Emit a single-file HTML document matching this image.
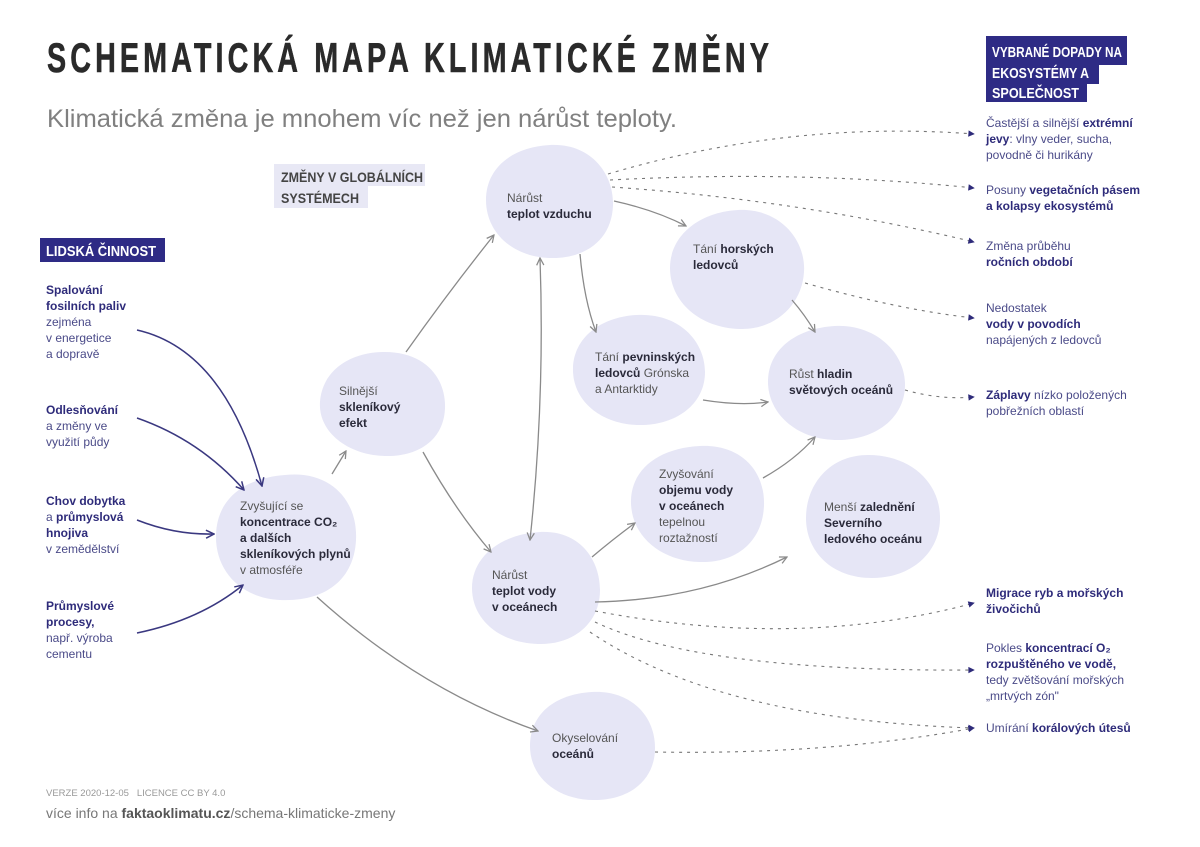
<!DOCTYPE html>
<html><head><meta charset="utf-8"><style>
html,body{margin:0;padding:0;background:#fff;}
svg{display:block;font-family:"Liberation Sans",sans-serif;}
.t{font-size:12px;fill:#555;}
.b{font-weight:bold;fill:#2a2a3a;}
.n{font-size:12px;fill:#4a4a88;}
.nb{font-weight:bold;fill:#2e2b7a;}
.blob{fill:#e6e6f6;}
.g{stroke:#8a8a8a;stroke-width:1.3;fill:none;}
.nv{stroke:#3a3880;stroke-width:1.5;fill:none;}
.d{stroke:#777;stroke-width:1.1;fill:none;stroke-dasharray:3 5;}
</style></head><body>
<svg width="1200" height="847" viewBox="0 0 1200 847">
<defs>
<marker id="ag" viewBox="0 0 10 10" refX="9" refY="5" markerWidth="9" markerHeight="9" orient="auto" markerUnits="userSpaceOnUse"><path d="M1,1 L9,5 L1,9" fill="none" stroke="#8a8a8a" stroke-width="1.4"/></marker>
<marker id="agr" viewBox="0 0 10 10" refX="1" refY="5" markerWidth="9" markerHeight="9" orient="auto" markerUnits="userSpaceOnUse"><path d="M9,1 L1,5 L9,9" fill="none" stroke="#8a8a8a" stroke-width="1.4"/></marker>
<marker id="an" viewBox="0 0 10 10" refX="9" refY="5" markerWidth="10" markerHeight="10" orient="auto" markerUnits="userSpaceOnUse"><path d="M1,1 L9,5 L1,9" fill="none" stroke="#3a3880" stroke-width="1.5"/></marker>
<marker id="at" viewBox="0 0 10 10" refX="8" refY="5" markerWidth="8" markerHeight="8" orient="auto" markerUnits="userSpaceOnUse"><path d="M1,1 L9,5 L1,9 Z" fill="#2e2b7a"/></marker>
</defs>

<!-- Title -->
<text x="47" y="72" font-weight="bold" font-size="42" letter-spacing="6" fill="#2a2a2a" stroke="#2a2a2a" stroke-width="0.6" textLength="726" lengthAdjust="spacingAndGlyphs">SCHEMATICKÁ MAPA KLIMATICKÉ ZMĚNY</text>
<text x="47" y="127" font-size="25" fill="#808080" textLength="630" lengthAdjust="spacingAndGlyphs">Klimatická změna je mnohem víc než jen nárůst teploty.</text>

<!-- section labels -->
<rect x="986" y="36" width="141" height="29" fill="#2e2b85"/>
<rect x="986" y="64" width="113" height="20" fill="#2e2b85"/>
<rect x="986" y="83" width="101" height="19" fill="#2e2b85"/>
<g font-weight="bold" font-size="15" fill="#fff">
<text x="992" y="57" textLength="130" lengthAdjust="spacingAndGlyphs">VYBRANÉ DOPADY NA</text>
<text x="992" y="78" textLength="97" lengthAdjust="spacingAndGlyphs">EKOSYSTÉMY A</text>
<text x="992" y="98" textLength="87" lengthAdjust="spacingAndGlyphs">SPOLEČNOST</text>
</g>
<rect x="40" y="238" width="125" height="24" fill="#2e2b85"/>
<text x="46" y="256" font-weight="bold" font-size="14.5" fill="#fff" textLength="110" lengthAdjust="spacingAndGlyphs">LIDSKÁ ČINNOST</text>
<rect x="274" y="164" width="151" height="22" fill="#e8e8f5"/>
<rect x="274" y="186" width="94" height="22" fill="#e8e8f5"/>
<g font-weight="bold" font-size="14" fill="#444">
<text x="281" y="182" textLength="142" lengthAdjust="spacingAndGlyphs">ZMĚNY V GLOBÁLNÍCH</text>
<text x="281" y="203" textLength="78" lengthAdjust="spacingAndGlyphs">SYSTÉMECH</text>
</g>

<!-- blobs -->
<path class="blob" d="M285,475 C330,470 358,500 356,540 C354,580 325,602 280,600 C240,598 215,570 216,535 C217,498 245,478 285,475Z"/>
<path class="blob" d="M385,352 C425,352 446,378 445,408 C444,440 418,457 385,456 C348,455 318,432 320,402 C322,372 348,352 385,352Z"/>
<path class="blob" d="M550,145 C592,143 614,175 613,205 C612,240 585,259 550,258 C512,257 486,232 486,200 C486,168 512,147 550,145Z"/>
<path class="blob" d="M738,210 C780,208 806,240 804,272 C802,305 775,330 740,329 C700,328 670,302 670,268 C670,235 700,212 738,210Z"/>
<path class="blob" d="M637,315 C680,313 705,342 705,372 C705,405 675,426 638,425 C600,424 572,400 573,368 C574,338 600,317 637,315Z"/>
<path class="blob" d="M835,326 C875,324 905,352 905,385 C905,418 875,441 835,440 C795,439 767,412 768,380 C769,348 798,328 835,326Z"/>
<path class="blob" d="M700,446 C740,444 765,470 764,505 C763,540 738,563 700,562 C660,561 630,535 631,500 C632,468 660,448 700,446Z"/>
<path class="blob" d="M868,455 C910,455 940,482 940,518 C940,552 912,578 872,578 C832,578 806,552 806,518 C806,484 830,455 868,455Z"/>
<path class="blob" d="M540,532 C580,530 600,560 600,590 C600,622 575,645 538,644 C500,643 472,620 472,588 C472,556 502,534 540,532Z"/>
<path class="blob" d="M592,692 C630,690 655,715 655,748 C655,780 630,800 594,800 C558,800 530,778 530,746 C530,714 555,694 592,692Z"/>

<!-- gray connectors -->
<path class="g" d="M332,474 L346,451" marker-end="url(#ag)"/>
<path class="g" d="M406,352 Q450,290 494,235" marker-end="url(#ag)"/>
<path class="g" d="M423,452 Q455,510 491,552" marker-end="url(#ag)"/>
<path class="g" d="M540,258 Q545,400 530,540" marker-start="url(#agr)" marker-end="url(#ag)"/>
<path class="g" d="M580,254 Q584,300 596,332" marker-end="url(#ag)"/>
<path class="g" d="M614,201 Q655,210 686,226" marker-end="url(#ag)"/>
<path class="g" d="M792,300 Q805,315 815,332" marker-end="url(#ag)"/>
<path class="g" d="M703,400 Q740,406 768,402" marker-end="url(#ag)"/>
<path class="g" d="M763,478 Q795,460 815,437" marker-end="url(#ag)"/>
<path class="g" d="M592,557 Q612,540 635,523" marker-end="url(#ag)"/>
<path class="g" d="M595,602 Q700,600 787,557" marker-end="url(#ag)"/>
<path class="g" d="M317,597 Q420,690 538,731" marker-end="url(#ag)"/>

<!-- navy connectors -->
<path class="nv" d="M137,330 Q225,350 262,486" marker-end="url(#an)"/>
<path class="nv" d="M137,418 Q200,440 244,490" marker-end="url(#an)"/>
<path class="nv" d="M137,520 Q175,535 214,534" marker-end="url(#an)"/>
<path class="nv" d="M137,633 Q200,620 243,585" marker-end="url(#an)"/>

<!-- dotted -->
<path class="d" d="M608,174 Q790,120 974,134" marker-end="url(#at)"/>
<path class="d" d="M610,180 Q800,170 974,188" marker-end="url(#at)"/>
<path class="d" d="M612,187 Q800,200 974,242" marker-end="url(#at)"/>
<path class="d" d="M805,283 Q900,310 974,318" marker-end="url(#at)"/>
<path class="d" d="M905,390 Q940,400 974,397" marker-end="url(#at)"/>
<path class="d" d="M595,611 Q800,650 974,603" marker-end="url(#at)"/>
<path class="d" d="M595,622 Q700,672 974,670" marker-end="url(#at)"/>
<path class="d" d="M590,632 Q720,720 974,728" marker-end="url(#at)"/>
<path class="d" d="M655,752 Q830,755 974,728" marker-end="url(#at)"/>

<!-- blob texts -->
<text class="t" x="240" y="510">Zvyšující se</text>
<text class="t b" x="240" y="526">koncentrace CO₂</text>
<text class="t b" x="240" y="542">a dalších</text>
<text class="t b" x="240" y="558">skleníkových plynů</text>
<text class="t" x="240" y="574">v atmosféře</text>

<text class="t" x="339" y="395">Silnější</text>
<text class="t b" x="339" y="411">skleníkový</text>
<text class="t b" x="339" y="427">efekt</text>

<text class="t" x="507" y="202">Nárůst</text>
<text class="t b" x="507" y="218">teplot vzduchu</text>

<text class="t" x="693" y="253">Tání <tspan class="b">horských</tspan></text>
<text class="t b" x="693" y="269">ledovců</text>

<text class="t" x="595" y="361">Tání <tspan class="b">pevninských</tspan></text>
<text class="t" x="595" y="377"><tspan class="b">ledovců</tspan> Grónska</text>
<text class="t" x="595" y="393">a Antarktidy</text>

<text class="t" x="789" y="378">Růst <tspan class="b">hladin</tspan></text>
<text class="t b" x="789" y="394">světových oceánů</text>

<text class="t" x="659" y="478">Zvyšování</text>
<text class="t b" x="659" y="494">objemu vody</text>
<text class="t b" x="659" y="510">v oceánech</text>
<text class="t" x="659" y="526">tepelnou</text>
<text class="t" x="659" y="542">roztažností</text>

<text class="t" x="824" y="511">Menší <tspan class="b">zalednění</tspan></text>
<text class="t b" x="824" y="527">Severního</text>
<text class="t b" x="824" y="543">ledového oceánu</text>

<text class="t" x="492" y="579">Nárůst</text>
<text class="t b" x="492" y="595">teplot vody</text>
<text class="t b" x="492" y="611">v oceánech</text>

<text class="t" x="552" y="742">Okyselování</text>
<text class="t b" x="552" y="758">oceánů</text>

<!-- left texts -->
<g class="n">
<text x="46" y="294" class="nb">Spalování</text>
<text x="46" y="310" class="nb">fosilních paliv</text>
<text x="46" y="326">zejména</text>
<text x="46" y="342">v energetice</text>
<text x="46" y="358">a dopravě</text>
<text x="46" y="414" class="nb">Odlesňování</text>
<text x="46" y="430">a změny ve</text>
<text x="46" y="446">využití půdy</text>
<text x="46" y="505" class="nb">Chov dobytka</text>
<text x="46" y="521">a <tspan class="nb">průmyslová</tspan></text>
<text x="46" y="537" class="nb">hnojiva</text>
<text x="46" y="553">v zemědělství</text>
<text x="46" y="610" class="nb">Průmyslové</text>
<text x="46" y="626" class="nb">procesy,</text>
<text x="46" y="642">např. výroba</text>
<text x="46" y="658">cementu</text>
</g>

<!-- right texts -->
<g class="n">
<text x="986" y="127">Častější a silnější <tspan class="nb">extrémní</tspan></text>
<text x="986" y="143"><tspan class="nb">jevy</tspan>: vlny veder, sucha,</text>
<text x="986" y="159">povodně či hurikány</text>
<text x="986" y="194">Posuny <tspan class="nb">vegetačních pásem</tspan></text>
<text x="986" y="210" class="nb">a kolapsy ekosystémů</text>
<text x="986" y="250">Změna průběhu</text>
<text x="986" y="266" class="nb">ročních období</text>
<text x="986" y="312">Nedostatek</text>
<text x="986" y="328" class="nb">vody v povodích</text>
<text x="986" y="344">napájených z ledovců</text>
<text x="986" y="399"><tspan class="nb">Záplavy</tspan> nízko položených</text>
<text x="986" y="415">pobřežních oblastí</text>
<text x="986" y="597" class="nb">Migrace ryb a mořských</text>
<text x="986" y="613" class="nb">živočichů</text>
<text x="986" y="652">Pokles <tspan class="nb">koncentrací O₂</tspan></text>
<text x="986" y="668" class="nb">rozpuštěného ve vodě,</text>
<text x="986" y="684">tedy zvětšování mořských</text>
<text x="986" y="700">„mrtvých zón"</text>
<text x="986" y="732">Umírání <tspan class="nb">korálových útesů</tspan></text>
</g>

<!-- footer -->
<text x="46" y="796" font-size="9.5" fill="#999">VERZE 2020-12-05 &#160; LICENCE CC BY 4.0</text>
<text x="46" y="818" font-size="14" fill="#777">více info na <tspan font-weight="bold" fill="#555">faktaoklimatu.cz</tspan>/schema-klimaticke-zmeny</text>
</svg>
</body></html>
